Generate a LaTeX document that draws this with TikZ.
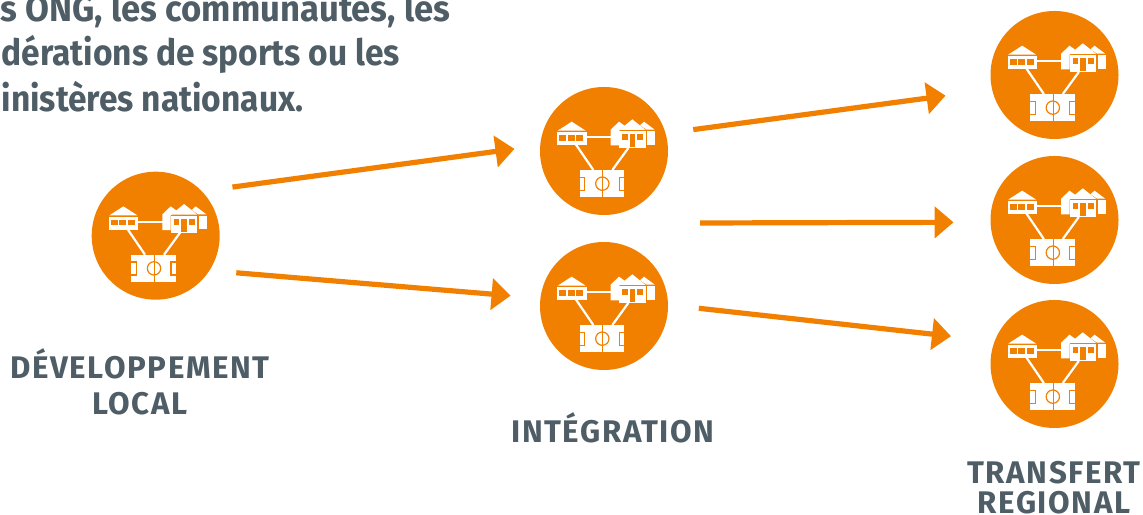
\documentclass[tikz,border=0pt]{standalone}
\usepackage{fontspec}
\setmainfont[FakeStretch=0.925]{Fira Sans}
\usetikzlibrary{arrows.meta}
\definecolor{hubcolor}{HTML}{F28000}
\definecolor{textcolor}{HTML}{4F5E66}
\newfontfamily\capsfont[LetterSpace=5]{Fira Sans}
\tikzset{
    hub/.style={circle, fill=hubcolor, minimum size=1.28cm, inner sep=0pt, outer sep=0pt},
    flow/.style={draw=hubcolor, line width=0.052cm, -{Triangle[length=0.19cm, width=0.31cm]}},
    intro/.style={anchor=base west, inner sep=0pt, text=textcolor, font=\fontsize{10.3}{10.3}\selectfont\bfseries},
    stage/.style={anchor=base, inner sep=0pt, text=textcolor, font=\fontsize{8.9}{8.9}\capsfont\bfseries},
    pics/hubicon/.style={code={
        \begin{scope}[x=1cm/300, y=-1cm/300, shift={(-227,-227)}]
            % links
            \draw[white, line width=0.022cm] (172,186) -- (250,186);
            \draw[white, line width=0.022cm] (143,208) -- (195,284);
            \draw[white, line width=0.022cm] (300,218) -- (252,284);
            % small house
            \fill[white] (88,166) -- (130,139) -- (172,166) -- cycle;
            \fill[white] (87,170) rectangle (175,210);
            \fill[hubcolor] (93,179) rectangle (114,196);
            \fill[hubcolor] (118,179) rectangle (139,196);
            \fill[hubcolor] (143,179) rectangle (164,196);
            % back houses
            \fill[white] (247,163) -- (272,139) -- (290,152) -- (272,166) -- (272,210) -- (247,210) -- cycle;
            \fill[white] (335,150) -- (347,139) -- (379,163) -- (355,163) -- cycle;
            \fill[white] (356,168) rectangle (380,208);
            % big house
            \fill[white] (273,164) -- (312,132) -- (352,164) -- cycle;
            \fill[white] (273,168) rectangle (352,218);
            \fill[hubcolor] (281,177) rectangle (298,194);
            \fill[hubcolor] (304,177) rectangle (321,215);
            \fill[hubcolor] (327,177) rectangle (344,194);
            % pitch
            \fill[white] (154,285) rectangle (221,365);
            \fill[white] (225,285) rectangle (288,365);
            \draw[hubcolor, line width=0.012cm] (222,325) circle (20);
            \draw[hubcolor, line width=0.012cm] (154,306) -- (169,306) -- (169,345) -- (154,345);
            \draw[hubcolor, line width=0.012cm] (288,306) -- (273,306) -- (273,345) -- (288,345);
        \end{scope}
    }},
}
\begin{document}
\begin{tikzpicture}
    \useasboundingbox (0,0) rectangle (11.43,-5.15);
    \node[hub] (dev) at (1.557,-2.357) {};
    \node[hub] (intA) at (6.04,-1.51) {};
    \node[hub] (intB) at (6.04,-3.06) {};
    \node[hub] (regA) at (10.545,-0.75) {};
    \node[hub] (regB) at (10.545,-2.2) {};
    \node[hub] (regC) at (10.545,-3.64) {};
    \foreach \n in {dev, intA, intB, regA, regB, regC} {
        \pic at (\n) {hubicon};
    }
    \coordinate (midstart) at (7,-2.23);
    \draw[flow, shorten <=0.31cm, shorten >=0.26cm] (dev.44) -- (intA.175);
    \draw[flow, shorten <=0.27cm, shorten >=0.30cm] (dev.-33) -- (intB.173);
    \draw[flow, shorten <=0.28cm, shorten >=0.47cm] (intA.16) -- (regA.193);
    \draw[flow, shorten >=0.37cm] (midstart) -- (regB.182);
    \draw[flow, shorten <=0.31cm, shorten >=0.44cm] (intB.1) -- (regC.159);
    \node[intro, xscale=1.035, transform shape] (introa) at (0,-0.22) {s ONG, les communautés, les};
    \node[intro] (introb) at (0.01,-0.66) {dérations de sports ou les};
    \node[intro] (introc) at (0.01,-1.12) {inistères nationaux.};
    \node[stage] (deva) at (1.4,-3.785) {DÉVELOPPEMENT};
    \node[stage] (devb) at (1.4,-4.145) {LOCAL};
    \node[stage] (inta) at (6.13,-4.425) {INTÉGRATION};
    \node[stage] (rega) at (10.54,-4.835) {TRANSFERT};
    \node[stage] (regb) at (10.54,-5.135) {REGIONAL};
\end{tikzpicture}
\end{document}
